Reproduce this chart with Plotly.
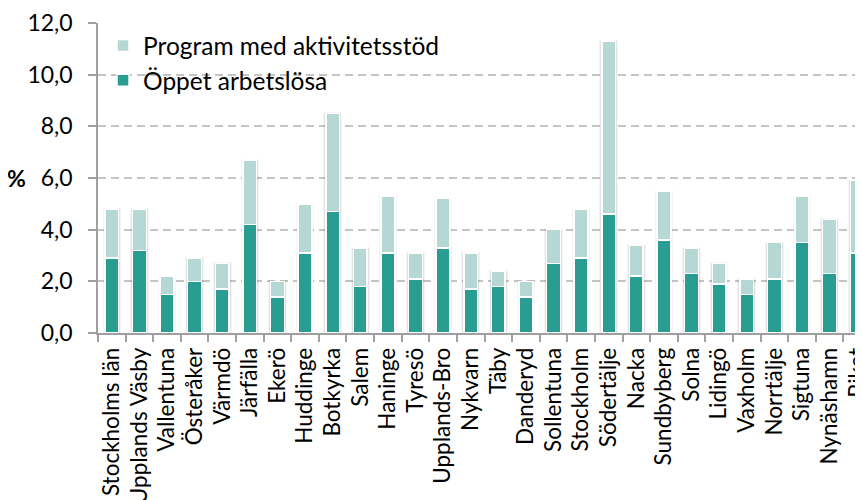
import plotly.graph_objects as go

categories = ["Stockholms län", "Upplands Väsby", "Vallentuna", "Österåker", "Värmdö",
              "Järfälla", "Ekerö", "Huddinge", "Botkyrka", "Salem", "Haninge", "Tyresö",
              "Upplands-Bro", "Nykvarn", "Täby", "Danderyd", "Sollentuna", "Stockholm",
              "Södertälje", "Nacka", "Sundbyberg", "Solna", "Lidingö", "Vaxholm",
              "Norrtälje", "Sigtuna", "Nynäshamn", "Riket"]
oppet = [2.9, 3.2, 1.5, 2.0, 1.7, 4.2, 1.4, 3.1, 4.7, 1.8, 3.1, 2.1, 3.3, 1.7,
         1.8, 1.4, 2.7, 2.9, 4.6, 2.2, 3.6, 2.3, 1.9, 1.5, 2.1, 3.5, 2.3, 3.1]
program = [1.9, 1.6, 0.7, 0.9, 1.0, 2.5, 0.6, 1.9, 3.8, 1.5, 2.2, 1.0, 1.9, 1.4,
           0.6, 0.6, 1.3, 1.9, 6.7, 1.2, 1.9, 1.0, 0.8, 0.6, 1.4, 1.8, 2.1, 2.8]
y_ticks = [0, 2, 4, 6, 8, 10, 12]

DARK = "#2a9d92"
LIGHT = "#b5d8d5"
FONT = "Lato"
AXIS = "#a0a0a0"

totals = [o + p for o, p in zip(oppet, program)]

fig = go.Figure()
# soft shadow behind the bars (base axis)
fig.add_trace(go.Bar(x=categories, y=totals, xaxis="x", yaxis="y",
                     marker=dict(color="rgba(0,0,0,0.07)",
                                 line=dict(color="rgba(0,0,0,0.04)", width=2)),
                     width=0.6, showlegend=False, hoverinfo="skip"))
fig.add_trace(go.Bar(x=categories, y=oppet, name="Öppet arbetslösa", xaxis="x2", yaxis="y",
                     marker=dict(color=DARK, line=dict(color="white", width=1.5)),
                     width=0.5, legendrank=2))
fig.add_trace(go.Bar(x=categories, y=program, name="Program med aktivitetsstöd",
                     xaxis="x2", yaxis="y",
                     marker=dict(color=LIGHT, line=dict(color="white", width=1.5)),
                     width=0.5, legendrank=1))

xr = [-0.5, 27.5]
fig.update_layout(
    width=880, height=500,
    barmode="stack",
    separators=", ",
    plot_bgcolor="white", paper_bgcolor="white",
    margin=dict(l=90, r=17, t=15, b=175, autoexpand=False),
    font=dict(family=FONT, size=22, color="black"),
    legend=dict(x=0.0065, y=1.0, xanchor="left", yanchor="top",
                bgcolor="rgba(0,0,0,0)", traceorder="normal",
                tracegroupgap=6, font=dict(size=24.5), itemwidth=30),
    showlegend=True,
    xaxis=dict(
        type="category", range=xr, tickson="boundaries",
        ticks="outside", ticklen=7, tickcolor=AXIS, tickwidth=1.5,
        showline=True, linecolor=AXIS, linewidth=1.5,
        tickangle=-90, tickfont=dict(size=22.5), automargin=False, showgrid=False,
        ticklabeloverflow="allow", ticklabelstandoff=4,
    ),
    xaxis2=dict(type="category", range=xr, overlaying="x", showticklabels=False,
                showline=False, showgrid=False, ticks="", matches="x"),
    yaxis=dict(
        range=[0, 12], tickvals=y_ticks, tickformat=".1f",
        ticks="outside", ticklen=8, tickcolor=AXIS, tickwidth=1.5,
        showline=True, linecolor=AXIS, linewidth=1.5,
        showgrid=True, gridcolor="#c4c4c4", gridwidth=1.5, griddash="8px,5px",
        zeroline=False, automargin=False, tickfont=dict(size=23),
        ticklabelstandoff=11,
    ),
)
fig.add_annotation(text="<b>%</b>", xref="paper", yref="y", x=0, y=6,
                   xanchor="right", yanchor="middle", xshift=-70,
                   showarrow=False, font=dict(size=23))

fig.write_html("out.html")
